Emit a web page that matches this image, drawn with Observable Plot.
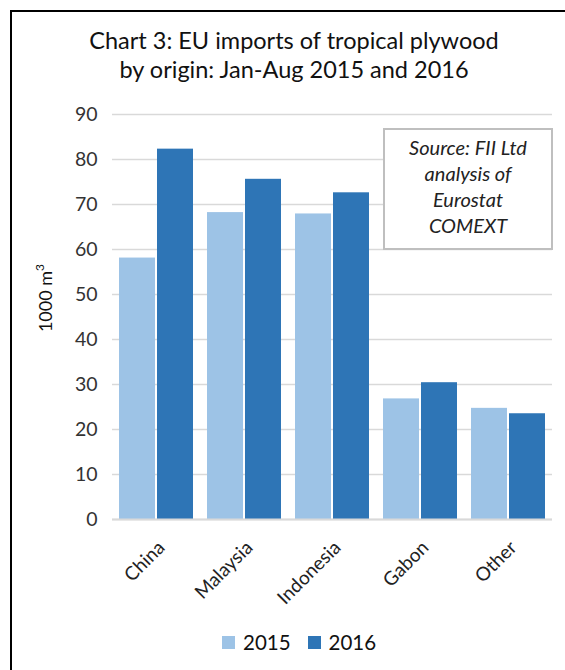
<!DOCTYPE html>
<html>
<head>
<meta charset="utf-8">
<script src="https://cdn.jsdelivr.net/npm/d3@7"></script>
<script src="https://cdn.jsdelivr.net/npm/@observablehq/plot@0.6"></script>
<style>
  html, body { margin: 0; padding: 0; background: #fff; }
  #chart { position: relative; width: 565px; height: 670px; overflow: hidden; background: #fff; font-family: Lato, "Open Sans", sans-serif; }
  .frame { position: absolute; left: 10px; top: 10px; right: -20px; bottom: -20px; border-left: 2px solid #000; border-top: 2px solid #000; }
  .title { position: absolute; left: 0; width: 588px; top: 26px; text-align: center; font-size: 23.5px; line-height: 29px; color: #111; white-space: nowrap; }
  .plot { position: absolute; left: 0; top: 100px; }
  .ylabel { position: absolute; left: 45px; top: 298px; transform: translate(-50%, -50%) rotate(-90deg); font-size: 18px; color: #111; white-space: nowrap; }
  .ylabel sup { font-size: 12px; vertical-align: 8px; line-height: 0; }
  .source { position: absolute; left: 383px; top: 128px; width: 170px; height: 122px; box-sizing: border-box; border: 2px solid #bfbfbf; background: #fff; font-style: italic; font-size: 20px; line-height: 26px; text-align: center; padding-top: 4px; color: #222; }
  .legend { position: absolute; left: 222px; top: 630px; display: flex; align-items: center; font-size: 20.5px; color: #111; line-height: 24px; }
  .legend .sw { width: 13px; height: 13px; display: inline-block; }
</style>
</head>
<body>
<div id="chart">
  <div class="frame"></div>
  <div class="title">Chart 3: EU imports of tropical plywood<br>by origin: Jan-Aug 2015 and 2016</div>
  <div class="ylabel">1000 m<sup>3</sup></div>
</div>
<script>
// EU imports of tropical plywood by origin, Jan-Aug, thousand cubic metres
const origins = ["China", "Malaysia", "Indonesia", "Gabon", "Other"];
const years = ["2015", "2016"];
const imports2015 = [58.1, 68.2, 67.9, 26.8, 24.7];
const imports2016 = [82.3, 75.6, 72.6, 30.4, 23.5];
const yTicks = [0, 10, 20, 30, 40, 50, 60, 70, 80, 90];
const yearColors = ["#9dc3e6", "#2e75b6"];
const sourceLines = ["Source: FII Ltd", "analysis of", "Eurostat", "COMEXT"];

const rows = origins.flatMap((origin, i) => [
  {origin, year: years[0], value: imports2015[i]},
  {origin, year: years[1], value: imports2016[i]}
]);

const chart = Plot.plot({
  width: 565,
  height: 520,
  marginLeft: 111,
  marginRight: 12,
  marginTop: 14,
  marginBottom: 101,
  style: {fontFamily: "Lato, 'Open Sans', sans-serif", fontSize: "19px", color: "#333", background: "transparent", overflow: "visible"},
  fx: {domain: origins, padding: 0, label: null},
  x: {domain: years, axis: null, paddingInner: 0.065, paddingOuter: 0.18},
  y: {domain: [0, 90], label: null},
  color: {domain: years, range: yearColors},
  marks: [
    Plot.gridY(yTicks, {stroke: "#d9d9d9", strokeOpacity: 1, strokeWidth: 1.4}),
    Plot.axisY(yTicks, {tickSize: 0, tickPadding: 15, fontSize: 19.5, label: null, fill: "#333"}),
    Plot.axisFx({anchor: "bottom", tickSize: 0, tickPadding: 25, tickRotate: -45, dx: 5, fontSize: 19, label: null, fill: "#222"}),
    Plot.barY(rows, {fx: "origin", x: "year", y: "value", fill: "year"}),
    Plot.ruleY([0], {stroke: "#d9d9d9", strokeWidth: 2})
  ]
});
chart.classList.add("plot");
const root = document.getElementById("chart");
root.appendChild(chart);

const source = document.createElement("div");
source.className = "source";
source.innerHTML = sourceLines.join("<br>");
root.appendChild(source);

const legend = document.createElement("div");
legend.className = "legend";
legend.innerHTML = years.map((y, i) =>
  `<span class="sw" style="background:${yearColors[i]}"></span><span style="margin-left:8px;margin-right:${i === 0 ? 17 : 0}px">${y}</span>`
).join("");
root.appendChild(legend);
</script>
</body>
</html>
